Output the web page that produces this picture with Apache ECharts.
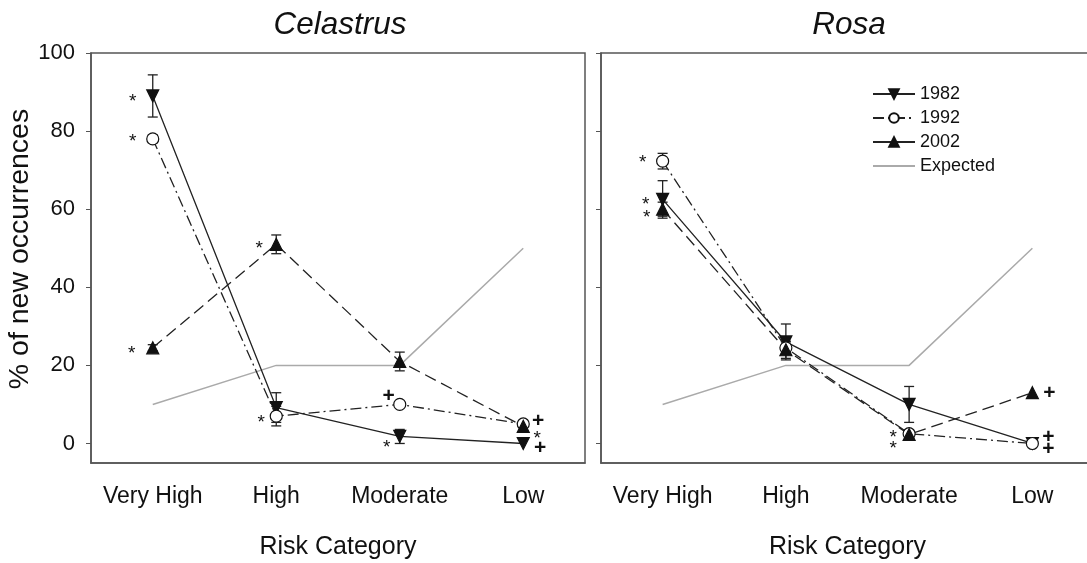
<!DOCTYPE html>
<html>
<head>
<meta charset="utf-8">
<script src="https://cdn.jsdelivr.net/npm/echarts@6/dist/echarts.min.js"></script>
<style>html,body{margin:0;padding:0;background:#fff}#c{width:1087px;height:563px}</style>
</head>
<body>
<div id="c"></div>
<script>
// ---- data ----
const categories = ['Very High', 'High', 'Moderate', 'Low'];
const yTicks = [0, 20, 40, 60, 80, 100];
const panelTitles = ['Celastrus', 'Rosa'];
const seriesNames = ['1982', '1992', '2002', 'Expected'];

const cel1982 = [89, 9.2, 1.8, 0];
const cel1992 = [78, 7, 10, 5];
const cel2002 = [24.5, 51, 21, 4.4];
const celExpected = [10, 20, 20, 50];
const celErr1982 = [5.4, 3.8, 1.8, 0];
const celErr1992 = [1, 2.5, 0, 0];
const celErr2002 = [0.8, 2.4, 2.4, 0];
const celMarks1982 = ['*', '', '*', '+'];
const celMarks1992 = ['*', '*', '+', '+'];
const celMarks2002 = ['*', '*', '', '*'];

const ros1982 = [62.5, 26, 10, 0];
const ros1992 = [72.3, 24.5, 2.5, 0];
const ros2002 = [60, 24, 2.3, 13];
const rosExpected = [10, 20, 20, 50];
const rosErr1982 = [4.8, 4.6, 4.6, 0];
const rosErr1992 = [2, 1.5, 1, 0];
const rosErr2002 = [1.8, 2.2, 1, 0];
const rosMarks1982 = ['*', '', '', '+'];
const rosMarks1992 = ['*', '', '*', '+'];
const rosMarks2002 = ['*', '', '*', '+'];

// ---- styling ----
const FONT = 'Liberation Sans, Arial, sans-serif';
const INK = '#111';
const AXIS = '#555';
const lineDefs = {
  '1982': {symbol: 'triangle', rotate: 180, fill: '#111', dash: 'solid', size: 12},
  '1992': {symbol: 'circle', rotate: 0, fill: '#fff', dash: [11, 4, 2, 4], size: 12},
  '2002': {symbol: 'triangle', rotate: 0, fill: '#111', dash: [12, 6], size: 12}
};
// pixel offsets of significance marks from their point: key panel-series-cat
const markOffsets = {
  '0-1982-0': [-20, 2], '0-1982-2': [-13, 7], '0-1982-3': [17, 5],
  '0-1992-0': [-20, -1], '0-1992-1': [-15, 3], '0-1992-2': [-11, -8], '0-1992-3': [15, -3],
  '0-2002-0': [-21, 2], '0-2002-1': [-17, 0], '0-2002-3': [14, 8],
  '1-1982-0': [-17, 1], '1-1992-0': [-20, -2], '1-2002-0': [-16, 5],
  '1-1992-2': [-16, 0], '1-2002-2': [-16, 10],
  '1-1982-3': [16, 6], '1-1992-3': [16, -6], '1-2002-3': [17, 0]
};

const panels = [
  {vals: {'1982': cel1982, '1992': cel1992, '2002': cel2002}, exp: celExpected,
   err: {'1982': celErr1982, '1992': celErr1992, '2002': celErr2002},
   marks: {'1982': celMarks1982, '1992': celMarks1992, '2002': celMarks2002}},
  {vals: {'1982': ros1982, '1992': ros1992, '2002': ros2002}, exp: rosExpected,
   err: {'1982': rosErr1982, '1992': rosErr1992, '2002': rosErr2002},
   marks: {'1982': rosMarks1982, '1992': rosMarks1992, '2002': rosMarks2002}}
];

const grids = [
  {left: 91, top: 53, width: 494, height: 410, show: true, borderColor: AXIS, borderWidth: 1.5,
   backgroundColor: 'transparent', outerBoundsMode: 'none', containLabel: false},
  {left: 601, top: 53, width: 493, height: 410, show: true, borderColor: AXIS, borderWidth: 1.5,
   backgroundColor: 'transparent', outerBoundsMode: 'none', containLabel: false}
];

const xAxes = grids.map((g, i) => ({
  type: 'category', gridIndex: i, data: categories, boundaryGap: true,
  axisLine: {onZero: false, lineStyle: {color: AXIS, width: 1.5}},
  axisTick: {alignWithLabel: true, length: 5, lineStyle: {color: AXIS}},
  axisLabel: {interval: 0, hideOverlap: false, fontFamily: FONT, fontSize: 23, color: INK, margin: 22},
  name: 'Risk Category', nameLocation: 'middle', nameGap: 72,
  nameTextStyle: {fontFamily: FONT, fontSize: 25, color: INK}
}));

const yAxes = grids.map((g, i) => ({
  type: 'value', gridIndex: i, min: -5, max: 100,
  splitLine: {show: false},
  axisLine: {show: true, onZero: false, lineStyle: {color: AXIS, width: 1.5}},
  axisTick: {show: true, length: 5, customValues: yTicks, lineStyle: {color: AXIS}},
  axisLabel: {show: i === 0, customValues: yTicks, fontFamily: FONT, fontSize: 22, color: INK, margin: 16},
  name: i === 0 ? '% of new occurrences' : '', nameLocation: 'middle', nameGap: 51,
  nameTextStyle: {fontFamily: FONT, fontSize: 28.5, color: INK, padding: [0, 0, 0, 18]}
}));

const series = [];
panels.forEach((p, pi) => {
  series.push({
    name: 'Expected', type: 'line', xAxisIndex: pi, yAxisIndex: pi, data: p.exp,
    symbol: 'none', lineStyle: {color: '#aaa', width: 1.5}, itemStyle: {color: '#aaa'}, z: 1,
    silent: true
  });
  ['1982', '1992', '2002'].forEach(name => {
    const d = lineDefs[name];
    const errs = p.err[name];
    const vals = p.vals[name];
    series.push({
      name: name + '-err', type: 'custom', xAxisIndex: pi, yAxisIndex: pi, z: 3,
      data: vals.map((v, k) => [k, v - errs[k], v + errs[k], errs[k]]),
      renderItem: (params, api) => {
        if (api.value(3) <= 0) return null;
        const lo = api.coord([api.value(0), api.value(1)]);
        const hi = api.coord([api.value(0), api.value(2)]);
        const cw = 5;
        const st = {stroke: '#222', lineWidth: 1.3};
        return {type: 'group', children: [
          {type: 'line', shape: {x1: lo[0], y1: lo[1], x2: hi[0], y2: hi[1]}, style: st},
          {type: 'line', shape: {x1: lo[0] - cw, y1: lo[1], x2: lo[0] + cw, y2: lo[1]}, style: st},
          {type: 'line', shape: {x1: hi[0] - cw, y1: hi[1], x2: hi[0] + cw, y2: hi[1]}, style: st}
        ]};
      }, silent: true
    });
    series.push({
      name: name, type: 'line', xAxisIndex: pi, yAxisIndex: pi, data: vals, z: 4,
      symbol: d.symbol, symbolSize: d.size, symbolRotate: d.rotate, showAllSymbol: true,
      lineStyle: {color: '#222', width: 1.3, type: d.dash},
      itemStyle: {color: d.fill, borderColor: '#111', borderWidth: 1.2},
      emphasis: {disabled: true}, animation: false
    });
    const marks = p.marks[name];
    series.push({
      name: name + '-marks', type: 'custom', xAxisIndex: pi, yAxisIndex: pi, z: 5,
      data: vals.map((v, k) => [k, v]),
      renderItem: (params, api) => {
        const k = api.value(0);
        const txt = marks[k];
        if (!txt) return null;
        const c = api.coord([k, api.value(1)]);
        const off = markOffsets[pi + '-' + name + '-' + k] || [0, 0];
        const isStar = txt === '*';
        return {type: 'text', x: c[0] + off[0], y: c[1] + off[1] + (isStar ? 4 : 0),
          style: {text: txt, fontFamily: FONT, fontSize: isStar ? 19 : 21,
            fontWeight: isStar ? 'normal' : 'bold', fill: '#111', align: 'center', verticalAlign: 'middle'}};
      }, silent: true
    });
  });
});

const option = {
  animation: false,
  backgroundColor: '#fff',
  title: panelTitles.map((t, i) => ({
    text: t, left: i === 0 ? 335 : 844, top: 4, textAlign: 'center',
    textStyle: {fontFamily: FONT, fontSize: 31.5, fontStyle: 'italic', fontWeight: 'normal', color: INK}
  })),
  legend: {
    data: [
      {name: '1982', lineStyle: {type: 'solid'}},
      {name: '1992'},
      {name: '2002', lineStyle: {type: 'solid'}},
      {name: 'Expected', itemStyle: {opacity: 0}}
    ],
    orient: 'vertical', left: 867, top: 80,
    itemWidth: 42, itemHeight: 12, itemGap: 6,
    textStyle: {fontFamily: FONT, fontSize: 18, color: INK},
    selectedMode: false
  },
  grid: grids,
  xAxis: xAxes,
  yAxis: yAxes,
  series: series
};

const chart = echarts.init(document.getElementById('c'), null, {renderer: 'canvas'});
chart.setOption(option);
</script>
</body>
</html>
